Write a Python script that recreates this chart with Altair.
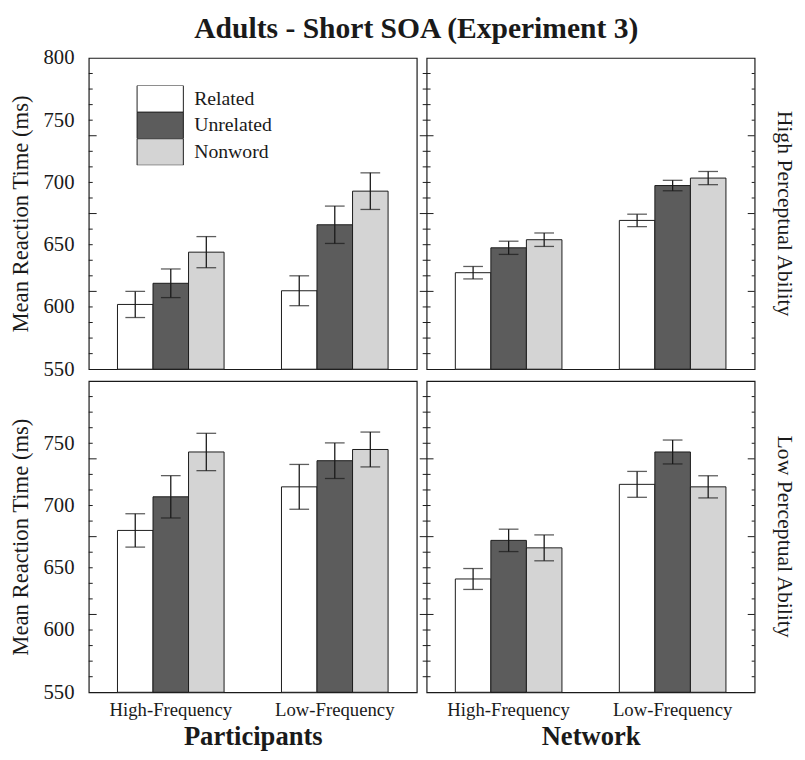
import altair as alt
import pandas as pd

conditions = ["Related", "Unrelated", "Nonword"]
frequencies = ["High-Frequency", "Low-Frequency"]
colors = ["#ffffff", "#5c5c5c", "#d4d4d4"]

# order: HF Related, HF Unrelated, HF Nonword, LF Related, LF Unrelated, LF Nonword
part_high_mean = [602, 619, 644, 613, 666, 693]
part_high_err = [10.5, 11.5, 12.5, 12, 15, 14.7]
net_high_mean = [627.5, 647.5, 654, 669.5, 697.5, 703.5]
net_high_err = [5, 5.3, 5.4, 5, 4.2, 5.3]
part_low_mean = [680, 707, 743, 715, 736, 745]
part_low_err = [13.4, 17, 15, 18, 14.3, 14]
net_low_mean = [641, 672, 666, 717, 743, 715]
net_low_err = [8.4, 9, 10.4, 10.4, 9.6, 8.9]

label_values_top = [550, 600, 650, 700, 750, 800]
label_values_bottom = [550, 600, 650, 700, 750]
minor_ticks = [562.5, 575, 587.5, 600, 625, 637.5, 650, 662.5, 687.5, 700,
               712.5, 725, 750, 762.5, 775, 787.5]
major_ticks = [612.5, 675, 737.5]

W = 333
H = 316
SERIF = "Liberation Serif"
INK = "#1a1a1a"


def frame(means, errs):
    rows = []
    i = 0
    for f in frequencies:
        for c in conditions:
            rows.append({"freq": f, "cond": c, "mean": means[i],
                         "lo": means[i] - errs[i], "hi": means[i] + errs[i]})
            i += 1
    return pd.DataFrame(rows)


def panel(means, errs, left, bottom, side_title, x_title, y_labels):
    df = frame(means, errs)
    yscale = alt.Scale(domain=[550, 800], nice=False, zero=False)
    if left:
        yaxis = alt.Axis(values=y_labels, ticks=False, domain=False, grid=False,
                         labelFontSize=21, labelFont=SERIF, labelPadding=15,
                         labelColor=INK, title="Mean Reaction Time (ms)",
                         titleFontSize=23, titleFont=SERIF, titleFontWeight="normal",
                         titleColor=INK, titlePadding=11)
    else:
        yaxis = None
    if bottom:
        xaxis = alt.Axis(labelAngle=0, ticks=False, domain=False, labelFontSize=19,
                         labelFont=SERIF, labelColor=INK, labelPadding=9,
                         title=x_title, titleFontSize=27, titleFont=SERIF,
                         titleFontWeight="bold", titleColor=INK, titlePadding=4)
    else:
        xaxis = None
    xenc = alt.X("freq:N", sort=frequencies, axis=xaxis,
                 scale=alt.Scale(domain=frequencies, paddingInner=0.35, paddingOuter=0.175))
    xoff = alt.XOffset("cond:N", sort=conditions,
                       scale=alt.Scale(domain=conditions, paddingInner=0, paddingOuter=0))
    color = alt.Color("cond:N", sort=conditions,
                      scale=alt.Scale(domain=conditions, range=colors),
                      legend=alt.Legend(title=None, orient="none", legendX=48, legendY=28,
                                        symbolType="M-0.96,-1L2.52,-1L2.52,1L-0.96,1Z",
                                        symbolSize=729, symbolStrokeColor=INK,
                                        symbolStrokeWidth=1, symbolOpacity=1,
                                        clipHeight=27,
                                        labelFont=SERIF, labelFontSize=20,
                                        labelColor=INK, labelOffset=31, rowPadding=0))

    bars = alt.Chart(df).mark_bar(stroke=INK, strokeWidth=1).encode(
        x=xenc, xOffset=xoff,
        y=alt.Y("mean:Q", scale=yscale, axis=yaxis),
        y2=alt.datum(550),
        fill=color,
    )
    rule = alt.Chart(df).mark_rule(color=INK, strokeWidth=1.3).encode(
        x=xenc, xOffset=xoff,
        y=alt.Y("lo:Q", scale=yscale, axis=yaxis), y2="hi:Q",
    )
    caps = alt.Chart(df).transform_fold(["lo", "hi"], as_=["k", "v"]).mark_tick(
        color=INK, size=20, thickness=1.3, orient="horizontal").encode(
        x=xenc, xOffset=xoff,
        y=alt.Y("v:Q", scale=yscale, axis=yaxis),
    )
    minor_df = pd.DataFrame({"t": minor_ticks})
    major_df = pd.DataFrame({"t": major_ticks})
    layers = [bars, rule, caps]
    if left:
        layers += [
            alt.Chart(minor_df).mark_rule(color=INK).encode(
                y=alt.Y("t:Q", scale=yscale, axis=yaxis), x=alt.value(0), x2=alt.value(4)),
            alt.Chart(major_df).mark_rule(color=INK).encode(
                y=alt.Y("t:Q", scale=yscale, axis=yaxis), x=alt.value(0), x2=alt.value(8)),
        ]
    else:
        layers += [
            alt.Chart(minor_df).mark_rule(color=INK).encode(
                y=alt.Y("t:Q", scale=yscale, axis=yaxis), x=alt.value(-4), x2=alt.value(4)),
            alt.Chart(major_df).mark_rule(color=INK).encode(
                y=alt.Y("t:Q", scale=yscale, axis=yaxis), x=alt.value(-7), x2=alt.value(7)),
            alt.Chart(minor_df).mark_rule(color=INK).encode(
                y=alt.Y("t:Q", scale=yscale, axis=yaxis), x=alt.value(W - 3), x2=alt.value(W)),
            alt.Chart(major_df).mark_rule(color=INK).encode(
                y=alt.Y("t:Q", scale=yscale, axis=yaxis), x=alt.value(W - 7), x2=alt.value(W)),
        ]
    props = dict(width=W, height=H)
    if side_title:
        props["title"] = alt.TitleParams(side_title, orient="right", fontSize=22,
                                         font=SERIF, fontWeight="normal", color=INK,
                                         offset=18, anchor="middle")
    return alt.layer(*layers).properties(**props)


top = alt.hconcat(
    panel(part_high_mean, part_high_err, True, False, None, None, label_values_top),
    panel(net_high_mean, net_high_err, False, False, "High Perceptual Ability", None, None),
    spacing=0,
)
bottom = alt.hconcat(
    panel(part_low_mean, part_low_err, True, True, None, "Participants", label_values_bottom),
    panel(net_low_mean, net_low_err, False, True, "Low Perceptual Ability", "Network", None),
    spacing=0,
)

chart = alt.vconcat(top, bottom, spacing=0).properties(
    title=alt.TitleParams("Adults - Short SOA (Experiment 3)", fontSize=30, font=SERIF,
                          fontWeight="bold", color=INK, anchor="middle", offset=3, dx=14),
    padding={"left": 0, "right": 0, "top": 0, "bottom": 0},
    background="white",
).configure_view(stroke=INK, strokeWidth=1.2)

chart.save("out.html", embed_options={"renderer": "svg", "actions": False})
